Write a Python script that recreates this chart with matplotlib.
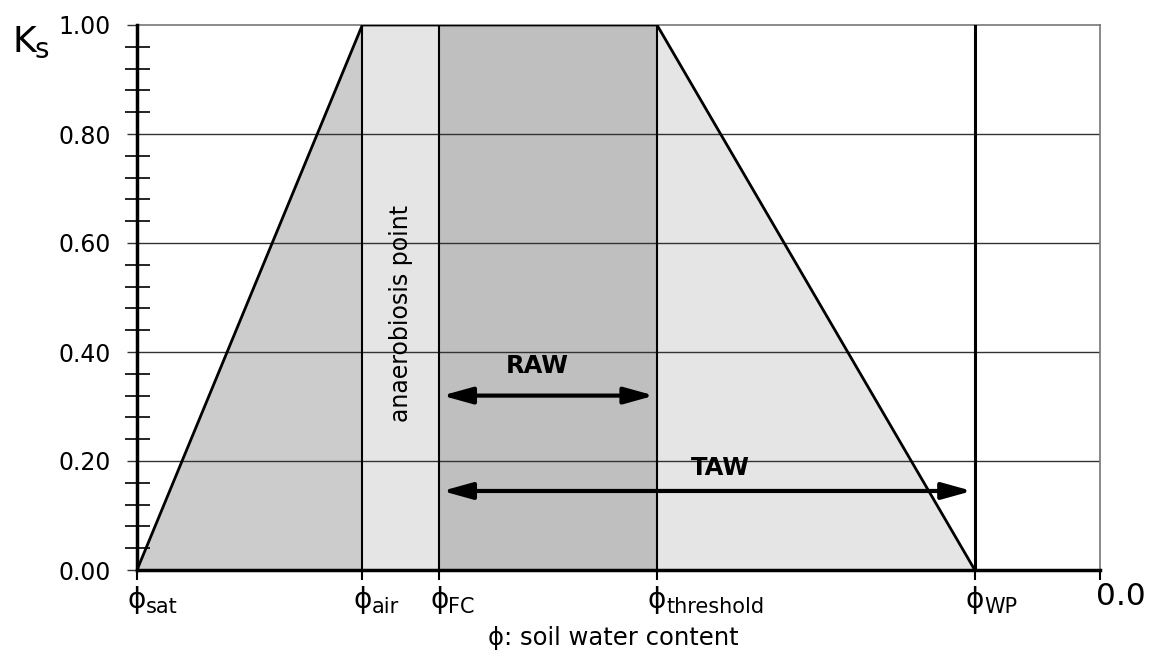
import matplotlib
matplotlib.use("Agg")
import matplotlib.pyplot as plt

# soil water content positions (axis runs from saturation down to 0.0)
phi_sat = 0.50
phi_air = 0.383
phi_fc = 0.343
phi_thr = 0.230
phi_wp = 0.065
phi_zero = 0.0

phi_names = ["sat", "air", "FC", "threshold", "WP"]
phi_values = [phi_sat, phi_air, phi_fc, phi_thr, phi_wp]

ks_major = [0.0, 0.2, 0.4, 0.6, 0.8, 1.0]
ks_labels = ["0.00", "0.20", "0.40", "0.60", "0.80", "1.00"]

raw_level = 0.32
taw_level = 0.145

fig = plt.figure(figsize=(11.5, 6.59), dpi=100)
ax = fig.add_axes([137/1150, 89/659, 963/1150, 545/659])
ax.set_xlim(phi_sat, phi_zero)
ax.set_ylim(0, 1)

# shaded zones
ax.fill([phi_sat, phi_air, phi_air], [0, 1, 0], color="#cccccc", lw=0, zorder=1)
ax.fill_between([phi_air, phi_fc], 0, 1, color="#e5e5e5", lw=0, zorder=1)
ax.fill_between([phi_fc, phi_thr], 0, 1, color="#bfbfbf", lw=0, zorder=1)
ax.fill([phi_thr, phi_wp, phi_thr], [1, 0, 0], color="#e5e5e5", lw=0, zorder=1)

# gridlines
for k in ks_major[1:-1]:
    ax.axhline(k, color="#333333", lw=1, zorder=2)

# Ks curve
ax.plot([phi_sat, phi_air, phi_thr, phi_wp], [0, 1, 1, 0], color="black", lw=2, zorder=4)
for p in [phi_air, phi_fc, phi_thr]:
    ax.plot([p, p], [0, 1], color="black", lw=1.5, zorder=4)
ax.plot([phi_wp, phi_wp], [0, 1], color="black", lw=2.2, zorder=4)

# arrows
arrow = dict(arrowstyle="<|-|>,head_length=0.9,head_width=0.25", color="black",
             lw=3, mutation_scale=20, shrinkA=2, shrinkB=2)
ax.annotate("", xy=(phi_thr, raw_level), xytext=(phi_fc, raw_level), arrowprops=arrow, zorder=5)
ax.annotate("", xy=(phi_wp, taw_level), xytext=(phi_fc, taw_level), arrowprops=arrow, zorder=5)
ax.text(0.292, 0.375, "RAW", fontsize=17.5, fontweight="bold", ha="center", va="center")
ax.text(0.197, 0.188, "TAW", fontsize=17.5, fontweight="bold", ha="center", va="center")
ax.text((phi_air + phi_fc) / 2, 0.47, "anaerobiosis point", rotation=90,
        fontsize=17, ha="center", va="center")

# spines
for s in ["top", "right"]:
    ax.spines[s].set_color("#777777")
    ax.spines[s].set_linewidth(1.2)
ax.spines["left"].set_linewidth(2.5)
ax.spines["bottom"].set_linewidth(2.5)
ax.spines["left"].set_zorder(6)
ax.spines["bottom"].set_zorder(6)

# y ticks
ax.set_yticks(ks_major)
ax.set_yticklabels(ks_labels, fontsize=17)
ax.set_yticks([i * 0.04 for i in range(26) if i % 5 != 0], minor=True)
ax.tick_params(axis="y", which="major", direction="out", length=7, width=1, color="#333333", pad=12)
ax.tick_params(axis="y", which="minor", direction="inout", length=18, width=1.2, color="black")

# x ticks
ax.set_xticks(phi_values + [phi_zero])
ax.set_xticklabels([""] * 6)
ax.tick_params(axis="x", direction="out", length=7, width=1.5, color="black")
for name, p in zip(phi_names, phi_values):
    ax.annotate("ϕ", xy=(p, 0), xycoords=("data", "axes fraction"),
                xytext=(0, -27.5), textcoords="offset points", fontsize=20,
                ha="center", va="baseline", annotation_clip=False)
    ax.annotate(name, xy=(p, 0), xycoords=("data", "axes fraction"),
                xytext=(6.5, -31), textcoords="offset points", fontsize=15,
                ha="left", va="baseline", annotation_clip=False)
ax.annotate("0.0", xy=(phi_zero, 0), xycoords=("data", "axes fraction"),
            xytext=(-3, -19), textcoords="offset points", fontsize=22.5,
            ha="left", va="center", annotation_clip=False)

ax.set_xlabel("ϕ: soil water content", fontsize=17.5)
ax.xaxis.set_label_coords(0.495, -0.125)
ax.xaxis.label.set_va("center")

fig.text(12/1150, (659 - 52)/659, "K", fontsize=26, va="baseline")
fig.text(34/1150, (659 - 58)/659, "s", fontsize=20, va="baseline")

fig.savefig("out.png", dpi=100)
